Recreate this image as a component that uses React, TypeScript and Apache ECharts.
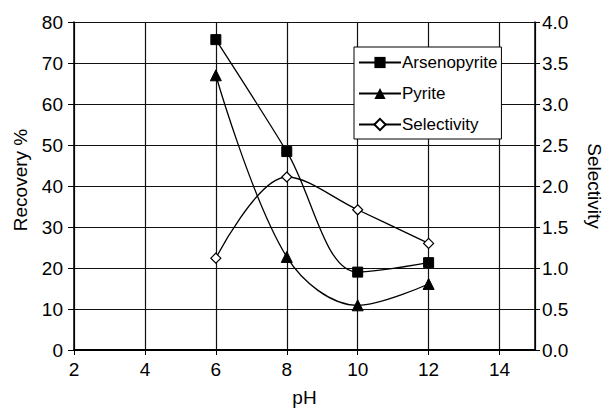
import React, { useEffect, useRef } from "react";
import * as echarts from "echarts";

const phValues = [6, 8, 10, 12];
const arsenopyrite = [75.7, 48.4, 19.0, 21.3];
const pyrite = [67.0, 22.7, 10.9, 16.1];
const selectivity = [1.12, 2.11, 1.71, 1.3];

const FONT = "'Liberation Sans', Arial, sans-serif";

export default function App() {
  const ref = useRef<HTMLDivElement>(null);
  useEffect(() => {
    if (!ref.current) return;
    const chart = echarts.init(ref.current, undefined, { renderer: "svg" });
    const pts = (ys: number[]) => phValues.map((x, i) => [x, ys[i]]);
    const lineStyle = { color: "#000", width: 1.3 };
    chart.setOption({
      animation: false,
      textStyle: { fontFamily: FONT, color: "#000" },
      grid: { left: 74, right: 66, top: 22, bottom: 55, containLabel: false },
      legend: {
        left: 354,
        top: 47,
        orient: "vertical",
        backgroundColor: "#fff",
        borderColor: "#000",
        borderWidth: 1,
        padding: [7, 4, 6, 4],
        itemWidth: 42,
        itemHeight: 14,
        itemGap: 14,
        textStyle: { fontFamily: FONT, fontSize: 17, color: "#000", padding: [0, 0, 0, -4] },
        data: ["Arsenopyrite", "Pyrite", "Selectivity"],
      },
      xAxis: [
        {
          type: "value",
          min: 2,
          max: 15,
          interval: 2,
          name: "pH",
          nameLocation: "middle",
          nameGap: 38,
          nameTextStyle: { fontFamily: FONT, fontSize: 19, color: "#000" },
          axisLine: { show: true, lineStyle: { color: "#000", width: 1.5 } },
          axisTick: { show: true, length: 5, inside: false, lineStyle: { color: "#000" } },
          axisLabel: { fontFamily: FONT, fontSize: 19, color: "#000", margin: 10, showMaxLabel: false },
          splitLine: { show: true, lineStyle: { color: "#111", width: 1.2 } },
        },
        {
          type: "value",
          position: "top",
          min: 2,
          max: 15,
          interval: 2,
          axisLine: { show: true, lineStyle: { color: "#000", width: 2 } },
          axisTick: { show: false },
          axisLabel: { show: false },
          splitLine: { show: false },
        },
      ],
      yAxis: [
        {
          type: "value",
          min: 0,
          max: 80,
          interval: 10,
          name: "Recovery %",
          nameLocation: "middle",
          nameGap: 44,
          nameRotate: 90,
          nameTextStyle: { fontFamily: FONT, fontSize: 19, color: "#000", padding: [0, 0, 0, 12] },
          axisLine: { show: true, lineStyle: { color: "#000", width: 1.5 } },
          axisTick: { show: true, length: 6, lineStyle: { color: "#000" } },
          axisLabel: { fontFamily: FONT, fontSize: 19, color: "#000", margin: 11 },
          splitLine: { show: true, lineStyle: { color: "#111", width: 1.2 } },
        },
        {
          type: "value",
          min: 0,
          max: 4,
          interval: 0.5,
          position: "right",
          name: "Selectivity",
          nameLocation: "middle",
          nameGap: 50,
          nameRotate: -90,
          nameTextStyle: { fontFamily: FONT, fontSize: 19, color: "#000" },
          axisLine: { show: true, lineStyle: { color: "#000", width: 1.5 } },
          axisTick: { show: true, length: 5, lineStyle: { color: "#000" } },
          axisLabel: {
            fontFamily: FONT,
            fontSize: 19,
            color: "#000",
            margin: 7,
            formatter: (v: number) => v.toFixed(1),
          },
          splitLine: { show: false },
        },
      ],
      series: [
        {
          name: "Arsenopyrite",
          type: "line",
          xAxisIndex: 0,
          yAxisIndex: 0,
          data: pts(arsenopyrite),
          smooth: 0.35,
          symbol: "rect",
          symbolSize: 10,
          itemStyle: { color: "#000", borderColor: "#000" },
          lineStyle,
          z: 5,
        },
        {
          name: "Pyrite",
          type: "line",
          xAxisIndex: 0,
          yAxisIndex: 0,
          data: pts(pyrite),
          smooth: 0.35,
          symbol: "triangle",
          symbolSize: 11,
          itemStyle: { color: "#000", borderColor: "#000" },
          lineStyle,
          z: 5,
        },
        {
          name: "Selectivity",
          type: "line",
          xAxisIndex: 0,
          yAxisIndex: 1,
          data: pts(selectivity),
          smooth: 0.35,
          symbol: "diamond",
          symbolSize: 10,
          showAllSymbol: true,
          itemStyle: { color: "#fff", borderColor: "#000", borderWidth: 1.2 },
          lineStyle,
          z: 5,
        },
      ],
    });
    return () => chart.dispose();
  }, []);
  return <div ref={ref} style={{ width: 612, height: 412, position: "absolute", left: 0, top: 0 }} />;
}
